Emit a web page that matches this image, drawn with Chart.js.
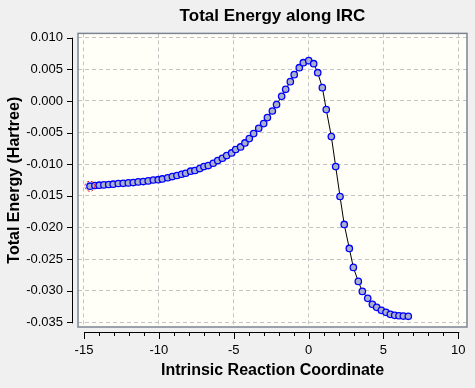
<!DOCTYPE html>
<html>
<head>
<meta charset="utf-8">
<title>Total Energy along IRC</title>
<script src="https://cdn.jsdelivr.net/npm/chart.js@4/dist/chart.umd.min.js"></script>
<style>
  html, body { margin: 0; padding: 0; background: #f0f0f0; }
  #wrap { width: 475px; height: 388px; position: relative; }
</style>
</head>
<body>
<div id="wrap"><canvas id="irc-chart"></canvas></div>
<script>
// IRC points (x = reaction coordinate, y = energy in Hartree)
const ircCoord = [
  -14.60, -14.27, -13.98, -13.67, -13.35, -13.05, -12.71, -12.38, -12.04, -11.71,
  -11.38, -11.04, -10.71, -10.37, -10.04, -9.77, -9.41, -9.10, -8.79, -8.48,
  -8.21, -7.88, -7.59, -7.27, -6.99, -6.70, -6.37, -6.07, -5.76, -5.47,
  -5.14, -4.87, -4.54, -4.25, -3.96, -3.67, -3.33, -3.00, -2.75, -2.42,
  -2.14, -1.80, -1.53, -1.22, -0.96, -0.62, -0.35, 0.01, 0.34, 0.61,
  0.92, 1.18, 1.52, 1.81, 2.10, 2.38, 2.72, 2.99, 3.32, 3.59,
  3.95, 4.26, 4.55, 4.86, 5.17, 5.46, 5.75, 6.04, 6.33, 6.66
];
const totalEnergy = [
  -0.01348, -0.01337, -0.01332, -0.01327, -0.01321, -0.01316, -0.01305, -0.01302, -0.01296, -0.01290,
  -0.01280, -0.01274, -0.01264, -0.01250, -0.01245, -0.01233, -0.01214, -0.01195, -0.01179, -0.01159,
  -0.01143, -0.01111, -0.01100, -0.01069, -0.01037, -0.01021, -0.00985, -0.00942, -0.00906, -0.00863,
  -0.00822, -0.00768, -0.00727, -0.00664, -0.00595, -0.00516, -0.00432, -0.00358, -0.00263, -0.00159,
  -0.00058, 0.00073, 0.00184, 0.00305, 0.00416, 0.00526, 0.00605, 0.00637, 0.00589, 0.00447,
  0.00210, -0.00137, -0.00563, -0.01037, -0.01511, -0.01953, -0.02332, -0.02632, -0.02853, -0.03011,
  -0.03121, -0.03216, -0.03263, -0.03311, -0.03342, -0.03374, -0.03390, -0.03396, -0.03401, -0.03405
];
const xTicks = [-15, -10, -5, 0, 5, 10];
const xMinorTicks = [-14, -13, -12, -11, -9, -8, -7, -6, -4, -3, -2, -1, 1, 2, 3, 4, 6, 7, 8, 9];
const yTicks = [0.010, 0.005, 0.000, -0.005, -0.010, -0.015, -0.020, -0.025, -0.030, -0.035];

const FONT = "'Liberation Sans', Arial, sans-serif";

// frame, detached axes, minor ticks and the marker round the current point
const framePlugin = {
  id: 'frame',
  beforeDraw(chart) {
    const { ctx, chartArea: a } = chart;
    ctx.save();
    ctx.fillStyle = '#f0f0f0';
    ctx.fillRect(0, 0, chart.width, chart.height);
    ctx.fillStyle = '#fffff7';
    ctx.fillRect(a.left, a.top, a.right - a.left, a.bottom - a.top);
    ctx.restore();
  },
  afterDraw(chart) {
    const { ctx, chartArea: a } = chart;
    const xs = chart.scales.x, ys = chart.scales.y;
    ctx.save();
    // plot box
    ctx.strokeStyle = '#7c8494';
    ctx.lineWidth = 1.5;
    ctx.strokeRect(a.left, a.top, a.right - a.left, a.bottom - a.top);

    ctx.strokeStyle = '#000';
    ctx.lineWidth = 1;
    // x axis below the box
    const ax = a.bottom + 5;
    ctx.beginPath();
    ctx.moveTo(xs.getPixelForValue(xTicks[0]), ax + 0.5);
    ctx.lineTo(xs.getPixelForValue(xTicks[xTicks.length - 1]) + 1, ax + 0.5);
    xTicks.forEach(v => {
      const px = Math.round(xs.getPixelForValue(v)) + 0.5;
      ctx.moveTo(px, ax);
      ctx.lineTo(px, ax + 7);
    });
    xMinorTicks.forEach(v => {
      const px = Math.round(xs.getPixelForValue(v)) + 0.5;
      ctx.moveTo(px, ax);
      ctx.lineTo(px, ax + 4);
    });
    ctx.stroke();

    // y axis left of the box
    const ay = a.left - 6;
    ctx.beginPath();
    ctx.moveTo(ay + 0.5, ys.getPixelForValue(yTicks[0]));
    ctx.lineTo(ay + 0.5, ys.getPixelForValue(yTicks[yTicks.length - 1]) + 1);
    yTicks.forEach(v => {
      const py = Math.round(ys.getPixelForValue(v)) + 0.5;
      ctx.moveTo(ay - 5, py);
      ctx.lineTo(ay + 1, py);
    });
    ctx.stroke();

    // dashed red ring on the first IRC point
    ctx.strokeStyle = '#e00000';
    ctx.setLineDash([2, 2]);
    ctx.beginPath();
    ctx.arc(xs.getPixelForValue(ircCoord[0]), ys.getPixelForValue(totalEnergy[0]), 5, 0, Math.PI * 2);
    ctx.stroke();
    ctx.restore();
  }
};

const ctx = document.getElementById('irc-chart').getContext('2d');
new Chart(ctx, {
  type: 'scatter',
  data: {
    datasets: [{
      label: 'Total Energy',
      data: ircCoord.map((x, i) => ({ x: x, y: totalEnergy[i] })),
      showLine: true,
      borderColor: '#000',
      borderWidth: 1,
      pointRadius: 3.2,
      pointBorderWidth: 1.3,
      pointBorderColor: '#0000ff',
      pointBackgroundColor: '#a9b0c8',
      tension: 0
    }]
  },
  options: {
    responsive: true,
    maintainAspectRatio: false,
    animation: false,
    layout: { padding: { left: 0, right: 8, top: 0, bottom: 0 } },
    plugins: {
      legend: { display: false },
      tooltip: { enabled: false },
      title: {
        display: true,
        text: 'Total Energy along IRC',
        color: '#000',
        fullSize: false,
        font: { family: FONT, size: 17, weight: 'bold' },
        padding: { top: 6, bottom: 7 }
      }
    },
    scales: {
      x: {
        type: 'linear',
        min: -15.4,
        max: 10.58,
        afterBuildTicks: s => { s.ticks = xTicks.map(v => ({ value: v })); },
        afterFit: s => { s.height = 61; s.paddingLeft = 0; s.paddingRight = 0; },
        grid: { color: '#c4c4c4', lineWidth: 1, drawTicks: false },
        border: { display: false, dash: [4, 3] },
        ticks: {
          color: '#000',
          padding: 16,
          maxRotation: 0,
          font: { family: FONT, size: 13 },
          callback: v => String(v)
        },
        title: {
          display: true,
          text: 'Intrinsic Reaction Coordinate',
          color: '#000',
          font: { family: FONT, size: 16, weight: 'bold' },
          padding: { top: 2, bottom: 8 }
        }
      },
      y: {
        type: 'linear',
        min: -0.03574,
        max: 0.01068,
        afterBuildTicks: s => { s.ticks = yTicks.map(v => ({ value: v })); },
        afterFit: s => { s.width = 78; s.paddingTop = 0; s.paddingBottom = 0; },
        grid: { color: '#c4c4c4', lineWidth: 1, drawTicks: false },
        border: { display: false, dash: [4, 3] },
        ticks: {
          color: '#000',
          padding: 15,
          font: { family: FONT, size: 13 },
          callback: v => v.toFixed(3)
        },
        title: {
          display: true,
          text: 'Total Energy (Hartree)',
          color: '#000',
          font: { family: FONT, size: 16, weight: 'bold' },
          padding: { top: 5, bottom: 2 }
        }
      }
    }
  },
  plugins: [framePlugin]
});
</script>
</body>
</html>
